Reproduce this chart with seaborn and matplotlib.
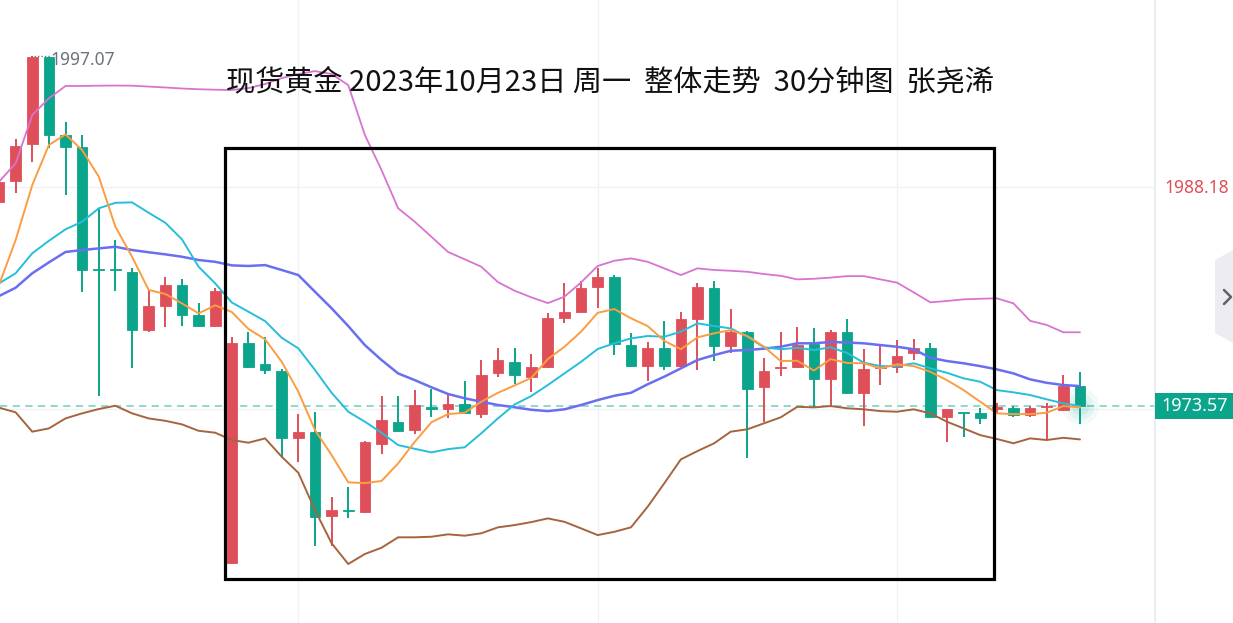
import numpy as np
import pandas as pd
import matplotlib
matplotlib.use('Agg')
import matplotlib.pyplot as plt
import seaborn as sns
from matplotlib.patches import Rectangle, Polygon
from matplotlib.transforms import blended_transform_factory

# 30-minute candles, spot gold
open_ = [1987.26, 1988.67, 1991.17, 1996.97, 1991.76, 1990.95, 1982.70, 1982.70, 1982.58, 1978.67,
         1980.30, 1981.69, 1979.68, 1978.96, 1963.01, 1977.78, 1976.37, 1975.94, 1971.44, 1971.80,
         1966.19, 1966.57, 1966.48, 1971.02, 1972.52, 1971.96, 1973.52, 1973.37, 1973.70, 1973.03,
         1975.76, 1976.54, 1975.54, 1976.17, 1979.50, 1979.90, 1981.54, 1982.21, 1977.66, 1976.27,
         1977.44, 1976.27, 1979.39, 1981.47, 1977.60, 1978.56, 1974.87, 1976.10, 1976.17, 1977.73,
         1975.38, 1978.56, 1974.46, 1976.09, 1976.21, 1977.11, 1977.44, 1972.85, 1973.15, 1973.12,
         1973.40, 1973.42, 1972.97, 1973.49, 1973.30, 1974.93]
high = [1989.01, 1991.49, 1997.07, 1997.00, 1992.65, 1991.76, 1986.84, 1984.71, 1982.81, 1981.36,
        1982.21, 1982.09, 1980.46, 1981.47, 1978.22, 1978.56, 1978.18, 1976.03, 1973.03, 1973.15,
        1967.48, 1968.11, 1971.22, 1974.24, 1974.24, 1974.64, 1974.71, 1974.36, 1975.25, 1976.66,
        1977.44, 1977.44, 1977.04, 1979.79, 1981.80, 1981.98, 1982.81, 1982.36, 1978.45, 1977.89,
        1979.27, 1979.86, 1981.80, 1981.98, 1980.08, 1978.60, 1976.77, 1978.56, 1978.85, 1978.78,
        1978.67, 1979.39, 1977.38, 1977.60, 1978.00, 1978.07, 1977.78, 1973.40, 1973.15, 1973.42,
        1973.75, 1973.60, 1973.60, 1973.75, 1975.65, 1975.87]
low = [1987.06, 1987.87, 1989.97, 1990.87, 1987.73, 1981.20, 1974.26, 1981.31, 1976.10, 1978.56,
       1978.89, 1978.96, 1978.90, 1978.90, 1963.00, 1976.10, 1975.70, 1970.06, 1969.83, 1964.19,
       1964.19, 1966.03, 1966.41, 1970.35, 1971.85, 1971.67, 1972.85, 1972.74, 1973.05, 1972.74,
       1975.50, 1975.05, 1974.49, 1976.10, 1979.12, 1979.90, 1980.13, 1976.99, 1976.17, 1975.27,
       1975.99, 1976.20, 1975.99, 1976.61, 1977.11, 1970.06, 1972.52, 1975.58, 1976.10, 1973.52,
       1973.57, 1974.40, 1972.23, 1974.98, 1975.76, 1976.66, 1972.81, 1971.13, 1971.51, 1972.34,
       1973.12, 1972.85, 1972.85, 1971.34, 1973.25, 1972.36]
close = [1988.60, 1991.02, 1996.97, 1991.78, 1990.97, 1982.70, 1982.67, 1982.67, 1978.67, 1980.28,
         1981.69, 1979.68, 1978.96, 1981.31, 1977.78, 1976.17, 1975.99, 1971.44, 1971.80, 1966.10,
         1966.59, 1966.52, 1971.13, 1972.63, 1971.91, 1973.64, 1973.37, 1973.70, 1973.08, 1975.65,
         1976.66, 1975.65, 1976.17, 1979.46, 1979.86, 1981.47, 1982.21, 1977.71, 1976.25, 1977.44,
         1976.27, 1979.39, 1981.58, 1977.60, 1978.56, 1974.69, 1975.94, 1976.15, 1977.66, 1975.38,
         1978.56, 1974.46, 1976.05, 1976.12, 1976.95, 1977.44, 1972.85, 1973.35, 1973.10, 1972.74,
         1973.42, 1972.97, 1973.42, 1973.52, 1974.93, 1973.57]

# indicator lines as drawn on the chart
ma5 = [1981.69, 1984.71, 1988.40, 1991.09, 1991.80, 1990.75, 1988.96, 1985.60, 1983.59, 1981.36,
       1981.09, 1980.46, 1979.79, 1980.33, 1979.88, 1978.74, 1978.05, 1976.54, 1974.53, 1971.96,
       1970.28, 1968.45, 1968.40, 1968.54, 1969.72, 1971.17, 1972.48, 1973.03, 1973.12, 1973.86,
       1974.46, 1974.95, 1975.45, 1976.72, 1977.55, 1978.56, 1979.83, 1980.08, 1979.46, 1978.94,
       1977.95, 1977.38, 1978.18, 1978.45, 1978.67, 1978.27, 1977.55, 1976.59, 1976.61, 1975.95,
       1976.72, 1976.46, 1976.44, 1976.10, 1976.37, 1976.25, 1975.87, 1975.31, 1974.64, 1973.86,
       1973.08, 1973.03, 1973.03, 1973.12, 1973.57, 1973.48]
ma10 = [1981.80, 1982.48, 1983.82, 1984.66, 1985.43, 1985.94, 1986.84, 1987.21, 1987.24, 1986.54,
        1985.87, 1984.76, 1982.92, 1981.80, 1980.52, 1979.90, 1979.27, 1978.15, 1977.44, 1975.99,
        1974.46, 1973.19, 1972.52, 1971.78, 1970.95, 1970.70, 1970.46, 1970.68, 1970.80, 1971.74,
        1972.74, 1973.67, 1974.24, 1974.98, 1975.76, 1976.54, 1977.40, 1977.78, 1978.11, 1978.27,
        1978.22, 1978.56, 1979.12, 1978.94, 1978.78, 1978.22, 1977.51, 1977.38, 1977.48, 1977.33,
        1977.51, 1977.13, 1976.48, 1976.25, 1976.25, 1976.44, 1976.10, 1975.80, 1975.43, 1975.20,
        1974.64, 1974.49, 1974.31, 1974.02, 1973.75, 1973.57]
boll_mid = [1980.95, 1981.51, 1982.48, 1983.21, 1983.91, 1984.04, 1984.15, 1984.26, 1984.04, 1983.89,
            1983.75, 1983.59, 1983.37, 1983.25, 1983.01, 1982.97, 1983.03, 1982.70, 1982.36, 1981.24,
            1980.13, 1978.94, 1977.66, 1976.66, 1975.76, 1975.31, 1974.83, 1974.38, 1974.09, 1973.86,
            1973.64, 1973.49, 1973.32, 1973.23, 1973.35, 1973.64, 1973.97, 1974.26, 1974.46, 1975.03,
            1975.54, 1976.10, 1976.66, 1976.99, 1977.28, 1977.33, 1977.42, 1977.55, 1977.78, 1977.78,
            1977.87, 1977.83, 1977.78, 1977.66, 1977.55, 1977.38, 1976.81, 1976.59, 1976.44, 1976.25,
            1976.03, 1975.76, 1975.36, 1975.13, 1974.98, 1974.91]
boll_up = [1988.62, 1989.86, 1993.10, 1994.22, 1995.05, 1995.05, 1995.07, 1995.08, 1995.07, 1995.01,
           1994.95, 1994.88, 1994.83, 1994.80, 1994.78, 1994.91, 1995.18, 1995.58, 1995.85, 1996.05,
           1995.85, 1995.11, 1991.76, 1989.41, 1986.84, 1985.94, 1984.93, 1983.91, 1983.42, 1982.92,
           1981.89, 1981.31, 1980.87, 1980.48, 1980.91, 1981.87, 1982.97, 1983.32, 1983.48, 1983.25,
           1982.81, 1982.36, 1982.81, 1982.70, 1982.65, 1982.58, 1982.43, 1982.31, 1982.07, 1982.11,
           1982.19, 1982.29, 1982.29, 1982.07, 1981.85, 1981.20, 1980.53, 1980.62, 1980.73, 1980.77,
           1980.80, 1980.46, 1979.29, 1979.01, 1978.52, 1978.52]
boll_low = [1973.46, 1973.15, 1971.85, 1972.07, 1972.74, 1973.08, 1973.37, 1973.59, 1973.08, 1972.74,
            1972.58, 1972.34, 1971.91, 1971.78, 1971.29, 1971.11, 1971.40, 1970.17, 1969.09, 1966.59,
            1964.36, 1962.97, 1963.64, 1964.06, 1964.76, 1964.76, 1964.80, 1964.96, 1964.87, 1965.03,
            1965.43, 1965.58, 1965.78, 1966.03, 1965.80, 1965.36, 1964.91, 1965.13, 1965.43, 1966.81,
            1968.38, 1969.99, 1970.55, 1971.07, 1971.85, 1972.01, 1972.41, 1972.81, 1973.52, 1973.48,
            1973.57, 1973.42, 1973.35, 1973.23, 1973.19, 1973.35, 1973.08, 1972.52, 1972.07, 1971.62,
            1971.36, 1971.07, 1971.40, 1971.29, 1971.44, 1971.33]

last_price = 1973.57
mark_price = 1988.18
top_high = 1997.07
title_text = '现货黄金 2023年10月23日 周一  整体走势  30分钟图  张尧浠'

UP = '#df4f5a'
DOWN = '#0aa58a'

sns.set_theme(style='white')
plt.rcParams['font.family'] = ['Noto Sans CJK SC', 'DejaVu Sans']

df = pd.DataFrame({'open': open_, 'high': high, 'low': low, 'close': close,
                   'ma5': ma5, 'ma10': ma10, 'mid': boll_mid, 'up': boll_up, 'dn': boll_low})
df['idx'] = np.arange(len(df))
df['color'] = np.where(df['close'] >= df['open'], UP, DOWN)

W, H = 1233, 623
fig = plt.figure(figsize=(W / 100, H / 100), dpi=100)
ax = fig.add_axes([0, 0, 1155 / W, 1])

# grid
ax.set_xticks([18, 36, 54])
ax.set_yticks([1973.4, 1988.3])
ax.grid(True, color='#f0f1f6', lw=1.0)
ax.tick_params(length=0, labelbottom=False, labelleft=False)
for s in ['top', 'left', 'bottom']:
    ax.spines[s].set_visible(False)
ax.spines['right'].set_color('#e9eaf0')
ax.spines['right'].set_linewidth(1.2)

# candles
body = (df['close'] - df['open']).abs().clip(lower=0.09)
bottom = df[['open', 'close']].min(axis=1)
ax.vlines(df['idx'], df['low'], df['high'], colors=df['color'], lw=1.4, zorder=2)
ax.bar(df['idx'], body, bottom=bottom, width=0.64, color=df['color'], edgecolor=df['color'],
       linewidth=0.6, zorder=3)

# indicator lines
line_styles = [('up', '#d873d0', 1.3), ('dn', '#a6643e', 1.4), ('mid', '#6a6ef0', 1.8),
               ('ma10', '#25bedb', 1.4), ('ma5', '#fb9d40', 1.4)]
for col, c, lw in line_styles:
    sns.lineplot(data=df, x='idx', y=col, ax=ax, color=c, linewidth=lw, zorder=4)

# last price line and glow on the last candle
ax.axhline(last_price, color='#86d5c3', lw=1.3, ls=(0, (4, 3)), zorder=1)
for s, a in [(700, 0.05), (380, 0.07), (160, 0.09)]:
    ax.scatter([df['idx'].iloc[-1]], [last_price], s=s, color=DOWN, alpha=a, lw=0, zorder=2)

# high marker
ax.plot([2.1, 3.05], [top_high, top_high], color='#777b86', lw=1.0, ls=(0, (1, 1.5)), zorder=5)
ax.text(3.12, top_high - 0.25, f'{top_high:.2f}', color='#6e727d', fontsize=12.5,
        family=['Noto Sans', 'DejaVu Sans'], ha='left', va='center', zorder=5)

ax.set_xlim(0.06, 69.51)
ax.set_ylim(1959.01, 2000.82)
ax.set_xlabel('')
ax.set_ylabel('')

# highlight box
ax.add_patch(Rectangle((225 / 1155, 1 - 579 / H), (994 - 225) / 1155, (579 - 148) / H,
                       transform=ax.transAxes, fill=False, ec='black', lw=2.3, zorder=6))

# price axis labels on the right
bt = blended_transform_factory(fig.transFigure, ax.transData)
fig.text(1197 / W, mark_price, f'{mark_price:.2f}', transform=bt, color=UP, fontsize=12.5,
         family=['Noto Sans', 'DejaVu Sans'], ha='center', va='center')
fig.patches.append(Rectangle((1155 / W, last_price - 0.9), 78 / W, 1.8, transform=bt,
                             color=DOWN, lw=0, zorder=5))
fig.text(1195 / W, last_price, f'{last_price:.2f}', transform=bt, color='white', fontsize=13,
         family=['Noto Sans', 'DejaVu Sans'], ha='center', va='center', zorder=6)

# collapse button
pts = [(1233, 250), (1215, 260), (1215, 333), (1233, 343)]
fig.patches.append(Polygon([(x / W, 1 - y / H) for x, y in pts], closed=True,
                           transform=fig.transFigure, fc='#ececf1', ec='none'))
chev = [(1224, 290), (1231, 297), (1224, 304)]
fig.lines.append(plt.Line2D([x / W for x, y in chev], [1 - y / H for x, y in chev],
                            transform=fig.transFigure, color='#5f636c', lw=1.8))

fig.text(610 / W, 1 - 82 / H, title_text, fontsize=21, color='#111111',
         ha='center', va='center')

fig.savefig('out.png', dpi=100)
